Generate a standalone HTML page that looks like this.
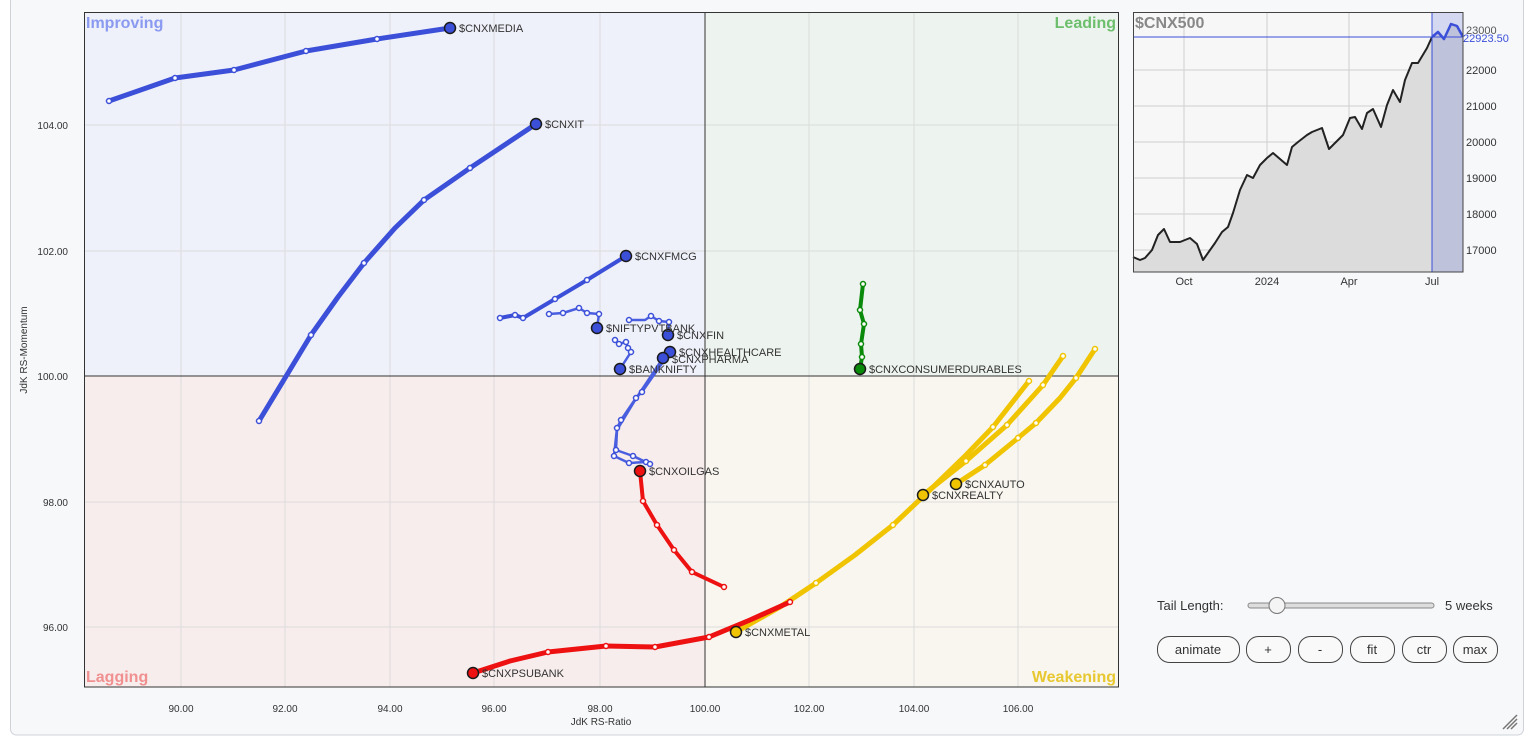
<!DOCTYPE html>
<html><head><meta charset="utf-8"><style>
html,body{margin:0;padding:0;background:#fff;}
svg{display:block;font-family:"Liberation Sans",sans-serif;}
</style></head><body>
<svg width="1531" height="739" viewBox="0 0 1531 739" xmlns="http://www.w3.org/2000/svg">
<rect x="10.5" y="-5" width="1513" height="740" rx="6" fill="#f7f8fa" stroke="#cfd3d8"/>
<!-- quadrants -->
<rect x="84" y="12" width="621" height="364" fill="#eef0fa"/>
<rect x="705" y="12" width="414" height="364" fill="#edf3ee"/>
<rect x="84" y="376" width="621" height="311" fill="#f8eded"/>
<rect x="705" y="376" width="414" height="311" fill="#f8f6ee"/>
<g stroke="#dcdcdc" stroke-width="1">
<line x1="181" y1="12" x2="181" y2="687"/><line x1="285" y1="12" x2="285" y2="687"/>
<line x1="390" y1="12" x2="390" y2="687"/><line x1="494" y1="12" x2="494" y2="687"/>
<line x1="600" y1="12" x2="600" y2="687"/><line x1="809" y1="12" x2="809" y2="687"/>
<line x1="914" y1="12" x2="914" y2="687"/><line x1="1018" y1="12" x2="1018" y2="687"/>
<line x1="84" y1="125" x2="1119" y2="125"/><line x1="84" y1="251" x2="1119" y2="251"/>
<line x1="84" y1="502" x2="1119" y2="502"/><line x1="84" y1="627" x2="1119" y2="627"/>
</g>
<line x1="705" y1="12" x2="705" y2="687" stroke="#333"/>
<line x1="84" y1="376" x2="1119" y2="376" stroke="#333"/>
<rect x="84.5" y="12.5" width="1034" height="674.5" fill="none" stroke="#333"/>
<g font-size="16" font-weight="bold">
<text x="86" y="28" fill="#8a9af0">Improving</text>
<text x="1116" y="28" fill="#6dbf6d" text-anchor="end">Leading</text>
<text x="86" y="682" fill="#f09090">Lagging</text>
<text x="1116" y="682" fill="#e8c830" text-anchor="end">Weakening</text>
</g>
<g font-size="10" fill="#333" text-anchor="middle">
<text x="181" y="712">90.00</text><text x="285" y="712">92.00</text><text x="390" y="712">94.00</text>
<text x="494" y="712">96.00</text><text x="600" y="712">98.00</text><text x="705" y="712">100.00</text>
<text x="809" y="712">102.00</text><text x="914" y="712">104.00</text><text x="1018" y="712">106.00</text>
<text x="601" y="725">JdK RS-Ratio</text>
</g>
<g font-size="10" fill="#333" text-anchor="end">
<text x="68" y="129">104.00</text><text x="68" y="255">102.00</text><text x="68" y="380">100.00</text>
<text x="68" y="506">98.00</text><text x="68" y="631">96.00</text>
</g>
<text x="27" y="350" font-size="10" fill="#333" text-anchor="middle" transform="rotate(-90 27 350)">JdK RS-Momentum</text>

<g fill="none" stroke-linejoin="round" stroke-linecap="round">
<!-- blue -->
<polyline stroke="#3b4fd8" stroke-width="5" points="109,101 175,78 234,70 306,51 377,39 450,28"/>
<polyline stroke="#3b4fd8" stroke-width="5" points="259,421 285,378 311,335 338,297 364,263 395,228 424,200 470,168 536,124"/>
<polyline stroke="#3b4fd8" stroke-width="4" points="500,318 515,315 523,318 555,299 587,280 626,256"/>
<polyline stroke="#4a5ee0" stroke-width="2.5" points="549,314 563,313 579,308 587,313 599,314 597,328"/>
<polyline stroke="#4a5ee0" stroke-width="2.5" points="629,320 645,320 651,316 659,321 669,322 668,335"/>
<polyline stroke="#4a5ee0" stroke-width="2.5" points="646,462 629,463 614,456 617,428 621,420 636,398 642,392 670,352"/>
<polyline stroke="#4a5ee0" stroke-width="2.5" points="650,464 633,456 616,450 617,430 637,397 663,358"/>
<polyline stroke="#4a5ee0" stroke-width="2.5" points="615,340 619,344 626,342 628,348 631,352 620,369"/>
<!-- green -->
<polyline stroke="#0a8a0a" stroke-width="4" points="863,284 860,310 864,324 861,344 862,357 860,369"/>
<!-- yellow -->
<polyline stroke="#f0c400" stroke-width="5" points="736,632 780,607 816,583 855,555 893,525 930,490 966,455 993,427 1029,381"/>
<polyline stroke="#f0c400" stroke-width="5" points="923,495 966,461 1007,425 1043,385 1063,356"/>
<polyline stroke="#f0c400" stroke-width="5" points="956,484 985,465 1018,438 1036,423 1060,398 1076,378 1095,349"/>
<!-- red -->
<polyline stroke="#ee1111" stroke-width="4" points="640,471 643,501 657,525 674,550 692,572 724,587"/>
<polyline stroke="#ee1111" stroke-width="5" points="473,673 510,661 548,652 606,646 655,647 709,637 750,620 790,602"/>
</g>
<g fill="#fff" stroke-width="1.5">
<g stroke="#3b4fd8">
<circle cx="109" cy="101" r="2.5"/><circle cx="175" cy="78" r="2.5"/><circle cx="234" cy="70" r="2.5"/><circle cx="306" cy="51" r="2.5"/><circle cx="377" cy="39" r="2.5"/>
<circle cx="259" cy="421" r="2.5"/><circle cx="311" cy="335" r="2.5"/><circle cx="364" cy="263" r="2.5"/><circle cx="424" cy="200" r="2.5"/><circle cx="470" cy="168" r="2.5"/>
<circle cx="500" cy="318" r="2.5"/><circle cx="515" cy="315" r="2.5"/><circle cx="523" cy="318" r="2.5"/><circle cx="555" cy="299" r="2.5"/><circle cx="587" cy="280" r="2.5"/>
<circle cx="549" cy="314" r="2.5"/><circle cx="563" cy="313" r="2.5"/><circle cx="579" cy="308" r="2.5"/><circle cx="587" cy="313" r="2.5"/><circle cx="599" cy="314" r="2.5"/>
<circle cx="629" cy="320" r="2.5"/><circle cx="651" cy="316" r="2.5"/><circle cx="659" cy="321" r="2.5"/><circle cx="669" cy="322" r="2.5"/>
<circle cx="646" cy="462" r="2.5"/><circle cx="629" cy="463" r="2.5"/><circle cx="614" cy="456" r="2.5"/><circle cx="617" cy="428" r="2.5"/><circle cx="636" cy="398" r="2.5"/><circle cx="642" cy="392" r="2.5"/>
<circle cx="650" cy="464" r="2.5"/><circle cx="633" cy="456" r="2.5"/><circle cx="616" cy="450" r="2.5"/><circle cx="621" cy="420" r="2.5"/>
<circle cx="615" cy="340" r="2.5"/><circle cx="619" cy="344" r="2.5"/><circle cx="626" cy="342" r="2.5"/><circle cx="628" cy="348" r="2.5"/><circle cx="631" cy="352" r="2.5"/>
</g>
<g stroke="#0a8a0a"><circle cx="863" cy="284" r="2.5"/><circle cx="860" cy="310" r="2.5"/><circle cx="864" cy="324" r="2.5"/><circle cx="861" cy="344" r="2.5"/><circle cx="862" cy="357" r="2.5"/></g>
<g stroke="#f0c400">
<circle cx="816" cy="583" r="2.5"/><circle cx="893" cy="525" r="2.5"/><circle cx="966" cy="461" r="2.5"/><circle cx="993" cy="427" r="2.5"/><circle cx="1029" cy="381" r="2.5"/>
<circle cx="1007" cy="425" r="2.5"/><circle cx="1043" cy="385" r="2.5"/><circle cx="1063" cy="356" r="2.5"/>
<circle cx="985" cy="465" r="2.5"/><circle cx="1018" cy="438" r="2.5"/><circle cx="1036" cy="423" r="2.5"/><circle cx="1076" cy="378" r="2.5"/><circle cx="1095" cy="349" r="2.5"/>
</g>
<g stroke="#ee1111">
<circle cx="643" cy="501" r="2.5"/><circle cx="657" cy="525" r="2.5"/><circle cx="674" cy="550" r="2.5"/><circle cx="692" cy="572" r="2.5"/><circle cx="724" cy="587" r="2.5"/>
<circle cx="548" cy="652" r="2.5"/><circle cx="606" cy="646" r="2.5"/><circle cx="655" cy="647" r="2.5"/><circle cx="709" cy="637" r="2.5"/><circle cx="790" cy="602" r="2.5"/>
</g>
</g>
<g stroke="#1a1a1a" stroke-width="1.5">
<g fill="#3b4fd8">
<circle cx="450" cy="28" r="5.5"/><circle cx="536" cy="124" r="5.5"/><circle cx="626" cy="256" r="5.5"/><circle cx="597" cy="328" r="5.5"/>
<circle cx="668" cy="335" r="5.5"/><circle cx="670" cy="352" r="5.5"/><circle cx="663" cy="358" r="5.5"/><circle cx="620" cy="369" r="5.5"/>
</g>
<circle cx="860" cy="369" r="5.5" fill="#0a8a0a"/>
<g fill="#f0c400"><circle cx="736" cy="632" r="5.5"/><circle cx="923" cy="495" r="5.5"/><circle cx="956" cy="484" r="5.5"/></g>
<g fill="#ee1111"><circle cx="640" cy="471" r="5.5"/><circle cx="473" cy="673" r="5.5"/></g>
</g>
<g font-size="11" fill="#333">
<text x="459" y="32">$CNXMEDIA</text><text x="545" y="128">$CNXIT</text><text x="635" y="260">$CNXFMCG</text>
<text x="606" y="332">$NIFTYPVTBANK</text><text x="677" y="339">$CNXFIN</text><text x="679" y="356">$CNXHEALTHCARE</text>
<text x="672" y="363">$CNXPHARMA</text><text x="629" y="373">$BANKNIFTY</text>
<text x="869" y="373">$CNXCONSUMERDURABLES</text>
<text x="649" y="475">$CNXOILGAS</text><text x="965" y="488">$CNXAUTO</text><text x="932" y="499">$CNXREALTY</text>
<text x="745" y="636">$CNXMETAL</text><text x="482" y="677">$CNXPSUBANK</text>
</g>

<!-- mini chart -->
<rect x="1133" y="12" width="330" height="260" fill="#f7f7f7"/>
<g stroke="#cfcfcf">
<line x1="1133" y1="70" x2="1463" y2="70"/><line x1="1133" y1="106" x2="1463" y2="106"/><line x1="1133" y1="142" x2="1463" y2="142"/>
<line x1="1133" y1="178" x2="1463" y2="178"/><line x1="1133" y1="214" x2="1463" y2="214"/><line x1="1133" y1="250" x2="1463" y2="250"/>
<line x1="1184" y1="12" x2="1184" y2="272"/><line x1="1267" y1="12" x2="1267" y2="272"/><line x1="1349" y1="12" x2="1349" y2="272"/>
</g>
<polygon fill="#dcdcdc" points="1133,257 1140,260 1145,258 1152,250 1158,235 1164,229 1170,242 1180,242 1190,238 1197,244 1203,260 1215,243 1222,232 1228,227 1233,213 1240,190 1247,175 1253,178 1260,165 1267,158 1273,153 1287,165 1292,147 1298,142 1307,135 1312,132 1322,128 1329,149 1335,143 1343,135 1350,118 1355,117 1362,129 1367,113 1373,109 1381,127 1387,105 1393,90 1400,102 1405,80 1412,63 1418,63 1427,48 1432,37 1438,32 1444,39 1451,24 1457,26 1463,37 1463,272 1133,272"/>
<rect x="1432" y="12" width="31" height="260" fill="#3b4fd8" fill-opacity="0.18"/>
<polyline fill="none" stroke="#222" stroke-width="2" stroke-linejoin="round" points="1133,257 1140,260 1145,258 1152,250 1158,235 1164,229 1170,242 1180,242 1190,238 1197,244 1203,260 1215,243 1222,232 1228,227 1233,213 1240,190 1247,175 1253,178 1260,165 1267,158 1273,153 1287,165 1292,147 1298,142 1307,135 1312,132 1322,128 1329,149 1335,143 1343,135 1350,118 1355,117 1362,129 1367,113 1373,109 1381,127 1387,105 1393,90 1400,102 1405,80 1412,63 1418,63 1427,48 1432,37"/>
<polyline fill="none" stroke="#3b4fd8" stroke-width="2.5" stroke-linejoin="round" points="1432,37 1438,32 1444,39 1451,24 1457,26 1463,37"/>
<line x1="1133" y1="37" x2="1463" y2="37" stroke="#3b4fd8"/>
<line x1="1432" y1="12" x2="1432" y2="272" stroke="#3b4fd8"/>
<rect x="1133.5" y="12.5" width="329.5" height="259.5" fill="none" stroke="#444"/>
<text x="1135" y="28" font-size="16" font-weight="bold" fill="#888">$CNX500</text>
<g font-size="11" fill="#333">
<text x="1466" y="74">22000</text><text x="1466" y="110">21000</text><text x="1466" y="146">20000</text>
<text x="1466" y="182">19000</text><text x="1466" y="218">18000</text><text x="1466" y="254">17000</text>
<text x="1466" y="34" fill="#555">23000</text>
<text x="1463" y="42" fill="#3b4fd8">22923.50</text>
</g>
<g font-size="11" fill="#333" text-anchor="middle">
<text x="1184" y="285">Oct</text><text x="1267" y="285">2024</text><text x="1349" y="285">Apr</text><text x="1432" y="285">Jul</text>
</g>

<!-- controls -->
<text x="1157" y="610" font-size="13" fill="#333">Tail Length:</text>
<rect x="1248" y="603" width="186" height="5" rx="2.5" fill="#ddd" stroke="#888"/>
<circle cx="1277" cy="605.5" r="8" fill="#f4f4f4" stroke="#777"/>
<text x="1445" y="610" font-size="13" fill="#333">5 weeks</text>
<g fill="#f9f9f9" stroke="#444">
<rect x="1157.5" y="636.5" width="82" height="26" rx="12"/>
<rect x="1246.5" y="636.5" width="44" height="26" rx="12"/>
<rect x="1298.5" y="636.5" width="44" height="26" rx="12"/>
<rect x="1350.5" y="636.5" width="44" height="26" rx="12"/>
<rect x="1402.5" y="636.5" width="44" height="26" rx="12"/>
<rect x="1453.5" y="636.5" width="44" height="26" rx="12"/>
</g>
<g font-size="13" fill="#333" text-anchor="middle">
<text x="1198" y="654">animate</text><text x="1268" y="654">+</text><text x="1320" y="654">-</text>
<text x="1372" y="654">fit</text><text x="1424" y="654">ctr</text><text x="1475" y="654">max</text>
</g>
<g stroke="#777" stroke-width="1.5">
<line x1="1503" y1="729" x2="1517" y2="715"/><line x1="1507" y1="729" x2="1517" y2="719"/><line x1="1511" y1="729" x2="1517" y2="723"/>
</g>
</svg>
</body></html>
